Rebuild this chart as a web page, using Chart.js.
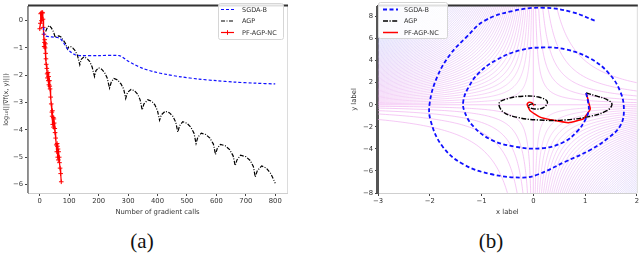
<!DOCTYPE html>
<html>
<head>
<meta charset="utf-8">
<script src="https://cdn.jsdelivr.net/npm/chart.js@4.4.1/dist/chart.umd.min.js"></script>
<style>
  body { margin: 0; background: #fff; width: 640px; height: 254px; position: relative; overflow: hidden; }
  canvas { position: absolute; top: 0; }
  #left { left: 0; }
  #right { left: 320px; }
  .cap { position: absolute; top: 229px; font-family: "Liberation Serif", "DejaVu Serif", serif; font-size: 21px; color: #111; transform: translateX(-50%); }
</style>
</head>
<body>
<canvas id="left" width="300" height="221"></canvas>
<canvas id="right" width="320" height="221"></canvas>
<div class="cap" style="left:142px">(a)</div>
<div class="cap" style="left:491px">(b)</div>
<script>
// (a) log10 of gradient norm vs number of gradient calls
const sgdaCalls = [13, 15, 20, 40, 60, 70, 80, 92, 105, 120, 136, 200, 270, 280, 295, 320, 350, 390, 430, 480, 540, 600, 660, 730, 800];
const sgdaLog = [-0.25, -0.55, -0.57, -0.6, -0.62, -0.66, -0.8, -1.0, -1.15, -1.25, -1.28, -1.28, -1.28, -1.33, -1.45, -1.6, -1.75, -1.88, -1.97, -2.06, -2.14, -2.2, -2.25, -2.29, -2.32];

const agpCalls = [20, 26, 32, 40, 47, 53, 58, 65, 72, 80, 88, 94, 98, 104, 112, 120, 128, 136,
  141, 150, 160, 170, 178, 186, 191, 200, 210, 220, 229, 237, 243, 252, 264, 276, 285, 292,
  298, 310, 322, 333, 341, 348, 354, 367, 380, 391, 400, 407, 413, 426, 440, 452, 462, 469,
  475, 486, 500, 513, 524, 531, 537, 549, 564, 578, 590, 597, 603, 614, 630, 645, 657, 664,
  670, 682, 700, 715, 726, 732, 739, 754, 770, 785, 800];
const agpLog = [-0.40, -0.25, -0.18, -0.28, -0.42, -0.63, -0.58, -0.56, -0.6, -0.72, -0.85, -1.04, -0.97, -0.95, -1.0, -1.1, -1.27, -1.62,
  -1.42, -1.33, -1.38, -1.5, -1.7, -2.05, -1.83, -1.73, -1.78, -1.9, -2.1, -2.47, -2.25, -2.12, -2.17, -2.32, -2.5, -2.85,
  -2.63, -2.52, -2.57, -2.7, -2.9, -3.27, -3.05, -2.9, -2.95, -3.08, -3.3, -3.65, -3.45, -3.32, -3.37, -3.5, -3.72, -4.08,
  -3.85, -3.7, -3.76, -3.9, -4.12, -4.5, -4.27, -4.12, -4.17, -4.3, -4.52, -4.9, -4.68, -4.53, -4.58, -4.72, -4.95, -5.31,
  -5.1, -4.93, -4.98, -5.12, -5.35, -5.72, -5.5, -5.32, -5.4, -5.6, -5.95];

const pfCalls = [0, 2, 3, 5, 6, 8, 10, 11, 12, 14, 15, 16, 17, 18, 19, 20, 21, 22, 24, 25, 26, 28, 29, 30, 31, 33, 34, 35, 37,
  39, 41, 42, 43, 44, 46, 47, 48, 49, 51, 52, 54, 56, 58, 59, 60, 61, 62, 63, 64, 66, 67, 69, 71, 73];
const pfLog = [-0.3, -0.1, 0.25, 0.28, 0.0, 0.3, 0.28, 0.05, -0.25, -0.5, -0.95, -0.8, -0.7, -1.0, -0.85, -1.2, -1.4, -1.6, -1.75, -1.95, -2.1, -1.9, -2.2, -2.05, -2.35,
  -2.2, -2.4, -2.5, -2.8, -3.05, -3.35, -3.5, -3.3, -3.8, -3.55, -3.9, -3.6, -3.75, -3.95, -4.1, -4.3, -4.55, -4.8, -4.5, -4.6, -5.0, -4.7, -5.1, -4.8, -5.0, -5.2, -5.4, -5.6, -5.9];

// (b) trajectories in the (x, y) plane
const sgdaX = [1.02, 1.06, 1.07, 1.0, 0.85, 0.58, 0.15, -0.35, -0.8, -1.15, -1.33, -1.35, -1.25, -1.05, -0.7, -0.25, 0.22, 0.65, 1.1, 1.45, 1.68, 1.75, 1.68, 1.45, 1.1, 0.6, 0.1, -0.2, -0.8, -1.35, -1.75, -1.98, -2.0, -1.85, -1.6, -1.3, -0.95, -0.4, 0.2, 0.75, 1.2];
const sgdaY = [1.07, 0.2, -0.5, -1.4, -2.4, -3.4, -3.95, -3.8, -3.2, -2.0, -0.6, 0.4, 1.6, 2.9, 4.1, 4.95, 5.2, 5.0, 4.2, 2.9, 1.2, -0.5, -1.9, -3.0, -4.1, -5.2, -6.3, -6.6, -6.3, -5.4, -3.8, -1.5, 0.2, 2.6, 4.6, 6.1, 7.6, 8.5, 8.8, 8.4, 7.6];
const agpX = [1.02, 1.23, 1.42, 1.52, 1.42, 1.1, 0.6, 0.1, -0.3, -0.58, -0.66, -0.5, -0.2, 0.1, 0.27, 0.2, 0.02, -0.1, -0.02, 0.05];
const agpY = [1.07, 0.78, 0.48, 0.04, -0.54, -1.04, -1.38, -1.38, -1.15, -0.65, 0.15, 0.55, 0.78, 0.7, 0.3, -0.25, -0.38, -0.15, 0.08, -0.02];
const pfX = [1.02, 1.05, 1.07, 1.1, 1.02, 0.97, 0.68, 0.33, 0.13, -0.06, -0.12, -0.09, -0.03, 0.0, 0.02];
const pfY = [1.07, 0.6, 0.19, -0.39, -0.97, -1.27, -1.62, -1.35, -1.12, -0.54, 0.04, 0.22, 0.19, 0.0, -0.05];

// contour levels of the objective (x*y = c)
const posLevels = [0.4, 0.9, 1.6, 2.5, 4];
const negLevels = [];
for (let c = 0.3; c <= 27; c += 0.32) negLevels.push(-c);

const pts = (xs, ys) => xs.map((v, i) => ({x: v, y: ys[i]}));
const FONT = 'DejaVu Sans';
const minus = v => String(v).replace('-', '\u2212');

function frame(leftColor, leftWidth) {
  return {
    id: 'frame',
    afterDatasetsDraw(chart) {
      const {ctx, chartArea: a} = chart;
      ctx.save();
      ctx.strokeStyle = '#dcdcdc'; ctx.lineWidth = 1;
      ctx.beginPath(); ctx.moveTo(a.right + 0.5, a.top); ctx.lineTo(a.right + 0.5, a.bottom); ctx.stroke();
      ctx.strokeStyle = '#333'; ctx.lineWidth = 2;
      ctx.beginPath(); ctx.moveTo(a.left, a.top - 0.5); ctx.lineTo(a.right + 1, a.top - 0.5); ctx.stroke();
      ctx.strokeStyle = leftColor; ctx.lineWidth = leftWidth;
      ctx.beginPath(); ctx.moveTo(a.left - leftWidth / 2, a.top); ctx.lineTo(a.left - leftWidth / 2, a.bottom); ctx.stroke();
      ctx.restore();
    }
  };
}

function boxLegend(o) {
  return {
    id: 'boxLegend',
    afterDraw(chart) {
      const ctx = chart.ctx;
      ctx.save();
      ctx.fillStyle = 'rgba(255,255,255,0.85)';
      ctx.strokeStyle = '#d6d6d6';
      ctx.lineWidth = 1;
      ctx.beginPath();
      ctx.roundRect(o.x + 0.5, o.y + 0.5, o.w, o.h, 2);
      ctx.fill(); ctx.stroke();
      ctx.font = '6.5px "' + FONT + '"';
      ctx.textBaseline = 'middle';
      chart.data.datasets.forEach((ds, i) => {
        const yy = o.y + o.rows[i];
        ctx.strokeStyle = ds.borderColor;
        ctx.lineWidth = ds.borderWidth;
        ctx.setLineDash(ds.borderDash || []);
        ctx.beginPath(); ctx.moveTo(o.x + o.l0, yy); ctx.lineTo(o.x + o.l1, yy); ctx.stroke();
        ctx.setLineDash([]);
        if (ds.pointRadius) {
          const cx = o.x + (o.l0 + o.l1) / 2, r = ds.pointRadius;
          ctx.lineWidth = 1;
          ctx.beginPath(); ctx.moveTo(cx - r, yy); ctx.lineTo(cx + r, yy); ctx.moveTo(cx, yy - r); ctx.lineTo(cx, yy + r); ctx.stroke();
        }
        ctx.fillStyle = '#333';
        ctx.fillText(ds.label, o.x + o.tx, yy + 0.5);
      });
      ctx.restore();
    }
  };
}

const contours = {
  id: 'contours',
  beforeDatasetsDraw(chart) {
    const {ctx, chartArea: a, scales: {x, y}} = chart;
    ctx.save();
    ctx.beginPath(); ctx.rect(a.left, a.top, a.width, a.height); ctx.clip();
    ctx.lineWidth = 0.8;
    const branch = (c, sign, color) => {
      ctx.strokeStyle = color;
      ctx.beginPath();
      for (let u = -6; u <= 1.2; u += 0.03) {
        const xv = sign * Math.exp(u);
        const yv = Math.max(-40, Math.min(40, c / xv));
        const px = x.getPixelForValue(xv), py = y.getPixelForValue(yv);
        if (u === -6) ctx.moveTo(px, py); else ctx.lineTo(px, py);
      }
      ctx.stroke();
    };
    negLevels.forEach(c => {
      const t = Math.min(1, -c / 20);
      const col = `rgba(${Math.round(238 - 50 * t)},${Math.round(165 + 35 * t)},${Math.round(238 + 12 * t)},0.62)`;
      branch(c, 1, col); branch(c, -1, col);
    });
    posLevels.forEach(c => {
      const col = 'rgba(240,170,240,0.8)';
      branch(c, 1, col); branch(c, -1, col);
    });
    ctx.strokeStyle = 'rgba(240,170,240,0.8)';
    ctx.beginPath();
    ctx.moveTo(x.getPixelForValue(0), a.top); ctx.lineTo(x.getPixelForValue(0), a.bottom);
    ctx.moveTo(a.left, y.getPixelForValue(0)); ctx.lineTo(a.right, y.getPixelForValue(0));
    ctx.stroke();
    ctx.restore();
  }
};

const tickFont = {family: FONT, size: 6.8};
const axisGrid = {display: true, drawOnChartArea: false, drawTicks: true, tickLength: 3, tickColor: '#444'};

const ctx1 = document.getElementById('left').getContext('2d');
const leftChart = new Chart(ctx1, {
  type: 'line',
  data: {
    datasets: [
      {label: 'SGDA-B', data: pts(sgdaCalls, sgdaLog), borderColor: '#1010ff', borderWidth: 1.2, borderDash: [3, 2], pointRadius: 0, tension: 0.3, fill: false},
      {label: 'AGP', data: pts(agpCalls, agpLog), borderColor: '#000', borderWidth: 1.2, borderDash: [4, 1.5, 1, 1.5], pointRadius: 0, tension: 0, fill: false},
      {label: 'PF-AGP-NC', data: pts(pfCalls, pfLog), borderColor: '#ff0000', borderWidth: 1.2, pointStyle: 'cross', pointRadius: 2.3, pointBorderWidth: 1, pointBorderColor: '#ff0000', tension: 0, fill: false}
    ]
  },
  options: {
    responsive: false, animation: false, devicePixelRatio: 1,
    layout: {padding: {left: 0, right: 13, top: 1, bottom: 0}},
    plugins: {legend: {display: false}, tooltip: {enabled: false}},
    scales: {
      x: {type: 'linear', min: -40, max: 840, afterFit: s => { s.height = 28; },
        ticks: {stepSize: 100, includeBounds: false, font: tickFont, color: '#333', padding: 1, maxRotation: 0, callback: minus},
        grid: axisGrid, border: {color: '#cfcfcf', width: 1},
        title: {display: true, text: 'Number of gradient calls', font: {family: FONT, size: 6.8}, color: '#333', padding: {top: 0, bottom: 5}}},
      y: {type: 'linear', min: -6.31, max: 0.53, afterFit: s => { s.width = 28; },
        ticks: {stepSize: 1, includeBounds: false, font: tickFont, color: '#333', padding: 2, callback: minus},
        grid: axisGrid, border: {color: '#999', width: 1},
        title: {display: true, text: 'log₁₀(||∇f(x, y)||)', font: {family: FONT, size: 6.5}, color: '#333', padding: {top: 2, bottom: 0}}}
    }
  },
  plugins: [frame('#8a8a8a', 1), boxLegend({x: 218, y: 3, w: 65, h: 36, rows: [6.5, 18, 29.5], l0: 3, l1: 16, tx: 24})]
});

const ctx2 = document.getElementById('right').getContext('2d');
const rightChart = new Chart(ctx2, {
  type: 'line',
  data: {
    datasets: [
      {label: 'SGDA-B', data: pts(sgdaX, sgdaY), borderColor: '#1010ff', borderWidth: 1.8, borderDash: [4, 2.5], pointRadius: 0, tension: 0.4, fill: false},
      {label: 'AGP', data: pts(agpX, agpY), borderColor: '#000', borderWidth: 1.4, borderDash: [5, 1.5, 1.2, 1.5], pointRadius: 0, tension: 0.4, fill: false},
      {label: 'PF-AGP-NC', data: pts(pfX, pfY), borderColor: '#ff0000', borderWidth: 1.5, pointRadius: 0, tension: 0.15, fill: false}
    ]
  },
  options: {
    responsive: false, animation: false, devicePixelRatio: 1,
    layout: {padding: {left: 30, right: 3, top: 1, bottom: 0}},
    plugins: {legend: {display: false}, tooltip: {enabled: false}},
    scales: {
      x: {type: 'linear', min: -3, max: 2, afterFit: s => { s.height = 28; },
        ticks: {stepSize: 1, includeBounds: false, font: tickFont, color: '#333', padding: 1, maxRotation: 0, callback: minus},
        grid: axisGrid, border: {color: '#cfcfcf', width: 1},
        title: {display: true, text: 'x label', font: {family: FONT, size: 6.8}, color: '#333', padding: {top: 0, bottom: 5}}},
      y: {type: 'linear', min: -8, max: 8.95, afterFit: s => { s.width = 28; },
        ticks: {stepSize: 2, includeBounds: false, font: tickFont, color: '#333', padding: 2, callback: minus},
        grid: axisGrid, border: {color: '#555', width: 2},
        title: {display: true, text: 'y label', font: {family: FONT, size: 6.8}, color: '#333', padding: {top: 0, bottom: 0}}}
    }
  },
  plugins: [contours, frame('#555', 2), boxLegend({x: 58, y: 2, w: 69, h: 36, rows: [7.5, 19, 30.5], l0: 5, l1: 20, tx: 26})]
});
</script>
</body>
</html>
